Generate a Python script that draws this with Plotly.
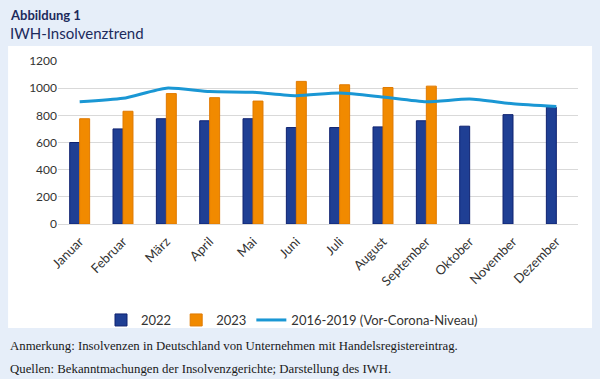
import plotly.graph_objects as go

months = ["Januar", "Februar", "März", "April", "Mai", "Juni", "Juli", "August",
          "September", "Oktober", "November", "Dezember"]
v2022 = [600, 700, 775, 760, 775, 710, 710, 715, 760, 720, 805, 860]
v2023 = [775, 830, 960, 930, 905, 1050, 1025, 1005, 1015, None, None, None]
v_pre = [900, 925, 1000, 975, 970, 945, 965, 935, 900, 920, 885, 865]
yticks = [0, 200, 400, 600, 800, 1000, 1200]

NAVY = "#1c2a5c"
BG = "#e6eef9"
font_sans = "Lato, 'Open Sans', sans-serif"

fig = go.Figure()
fig.add_trace(go.Bar(x=months, y=v2022, name="2022",
                     marker=dict(color="#1f3f94", line=dict(color="#0f2270", width=1))))
fig.add_trace(go.Bar(x=months, y=v2023, name="2023",
                     marker=dict(color="#f18a00", line=dict(color="#e07a00", width=1))))
fig.add_trace(go.Scatter(x=months, y=v_pre, name="2016-2019 (Vor-Corona-Niveau)",
                         mode="lines", line=dict(color="#1a97d4", width=3, shape="spline", smoothing=0.6)))

# white panel
fig.add_shape(type="rect", xref="paper", yref="paper",
              x0=-0.096, x1=1.027, y0=-0.638, y1=1.092,
              fillcolor="white", line=dict(width=0), layer="below")

fig.add_annotation(text="<b>Abbildung 1</b>", xref="paper", yref="paper",
                   x=-0.096, y=1.282, xanchor="left", yanchor="middle", showarrow=False,
                   font=dict(family=font_sans, size=13, color=NAVY))
fig.add_annotation(text="IWH-Insolvenztrend", xref="paper", yref="paper",
                   x=-0.096, y=1.172, xanchor="left", yanchor="middle", showarrow=False,
                   font=dict(family=font_sans, size=15, color=NAVY))
fig.add_annotation(text="Anmerkung: Insolvenzen in Deutschland von Unternehmen mit Handelsregistereintrag.",
                   xref="paper", yref="paper", x=-0.096, y=-0.748, xanchor="left", yanchor="middle",
                   showarrow=False, font=dict(family="'Liberation Serif', serif", size=12.8, color="#1a1a1a"))
fig.add_annotation(text="Quellen: Bekanntmachungen der Insolvenzgerichte; Darstellung des IWH.",
                   xref="paper", yref="paper", x=-0.096, y=-0.89, xanchor="left", yanchor="middle",
                   showarrow=False, font=dict(family="'Liberation Serif', serif", size=12.8, color="#1a1a1a"))

fig.update_layout(
    width=600, height=379,
    margin=dict(l=58, r=22, t=61, b=155),
    paper_bgcolor=BG, plot_bgcolor="white",
    barmode="group", bargap=0.54, bargroupgap=0,
    font=dict(family=font_sans, size=12, color="#333333"),
    showlegend=True,
    legend=dict(orientation="h", x=0.45, xanchor="center", y=-0.589, yanchor="middle",
                bgcolor="rgba(0,0,0,0)", font=dict(size=13, color="#333333"),
                traceorder="normal"),
)
fig.update_yaxes(range=[0, 1200], tickvals=yticks, showgrid=True, gridcolor="#d9d9d9",
                 gridwidth=1, zeroline=False, showline=False, ticks="",
                 tickfont=dict(size=12, color="#333333"))
fig.update_xaxes(tickangle=-45, showline=True, linecolor="#d9d9d9", ticks="",
                 ticklabelstandoff=4,
                 tickfont=dict(size=13, color="#333333"))

fig.write_html("out.html", config={"displayModeBar": False},
               post_script="document.body.style.margin='0';document.body.style.overflow='hidden';")
